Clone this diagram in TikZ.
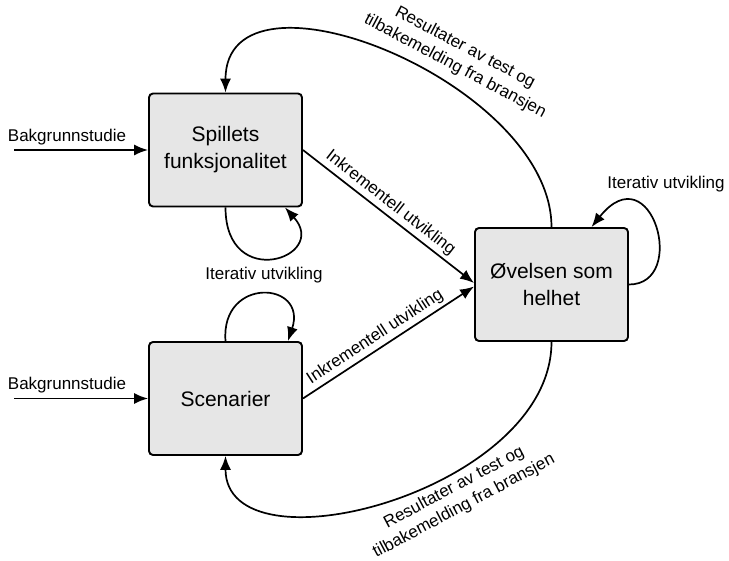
\documentclass[tikz,border=0pt]{standalone}
\usepackage{fontspec}
\setmainfont{Liberation Sans}
\usetikzlibrary{arrows.meta,calc}
\definecolor{boxgray}{HTML}{E6E6E6}
\tikzset{
  stage/.style={draw, line width=1.9pt, fill=boxgray, rounded corners=4pt,
    minimum width=153pt, minimum height=113pt, inner sep=0pt, align=center,
    font=\fontsize{21}{27}\selectfont},
  flow/.style={line width=1.7pt, -{Latex[length=14pt,width=11pt]}},
  lbl/.style={font=\fontsize{17}{21}\selectfont, align=center, inner sep=1pt},
}
\begin{document}
\begin{tikzpicture}[x=1pt,y=-1pt]
\useasboundingbox (0,0) rectangle (729,561);

% the three stages
\node[stage] (spill) at (225.5,150) {Spillets\\funksjonalitet};
\node[stage] (scen)  at (225.5,398.5) {Scenarier};
\node[stage] (ovel)  at (551.5,284.5) {Øvelsen som\\helhet};

% background studies feeding the two left stages
\coordinate (in1) at (14,150);
\coordinate (in2) at (14,398.5);
\draw[flow] (in1) -- (spill.west);
\draw[flow] (in2) -- (scen.west);
\node[lbl, anchor=base] (bg1) at (67,142) {Bakgrunnstudie};
\node[lbl, anchor=base] (bg2) at (67,390) {Bakgrunnstudie};

% incremental development into the whole exercise
\draw[flow] (spill.east) -- ($(ovel.west)+(0,-1.5)$)
  node[lbl, sloped, above=2pt, pos=0.47] (inc1) {Inkrementell utvikling};
\draw[flow] (scen.east) -- ($(ovel.west)+(0,2)$)
  node[lbl, sloped, above=2pt, pos=0.46] (inc2) {Inkrementell utvikling};

% iterative loops
\draw[flow] (spill.south) .. controls +(0,85) and +(45,50) ..
  ($(spill.south east)+(-18,0)$);
\node[lbl, anchor=base] (it1) at (264,280) {Iterativ utvikling};
\draw[flow] (scen.north) .. controls +(-5,-65) and +(20,-60) ..
  ($(scen.north east)+(-15,0)$);
\draw[flow] (ovel.east) .. controls +(60,0) and +(60,-75) ..
  ($(ovel.north)+(40,0)$);
\node[lbl, anchor=base] (it3) at (666,189) {Iterativ utvikling};

% feedback from test results back to the left stages
\draw[flow] (ovel.north) .. controls +(0,-145) and +(0,-140) .. (spill.north);
\node[lbl, rotate=-28] (fb1) at (460,57)
  {Resultater av test og\\tilbakemelding fra bransjen};
\draw[flow] (ovel.south) .. controls +(0,150) and +(0,120) .. (scen.south);
\node[lbl, rotate=28] (fb2) at (459,497)
  {Resultater av test og\\tilbakemelding fra bransjen};
\end{tikzpicture}
\end{document}
